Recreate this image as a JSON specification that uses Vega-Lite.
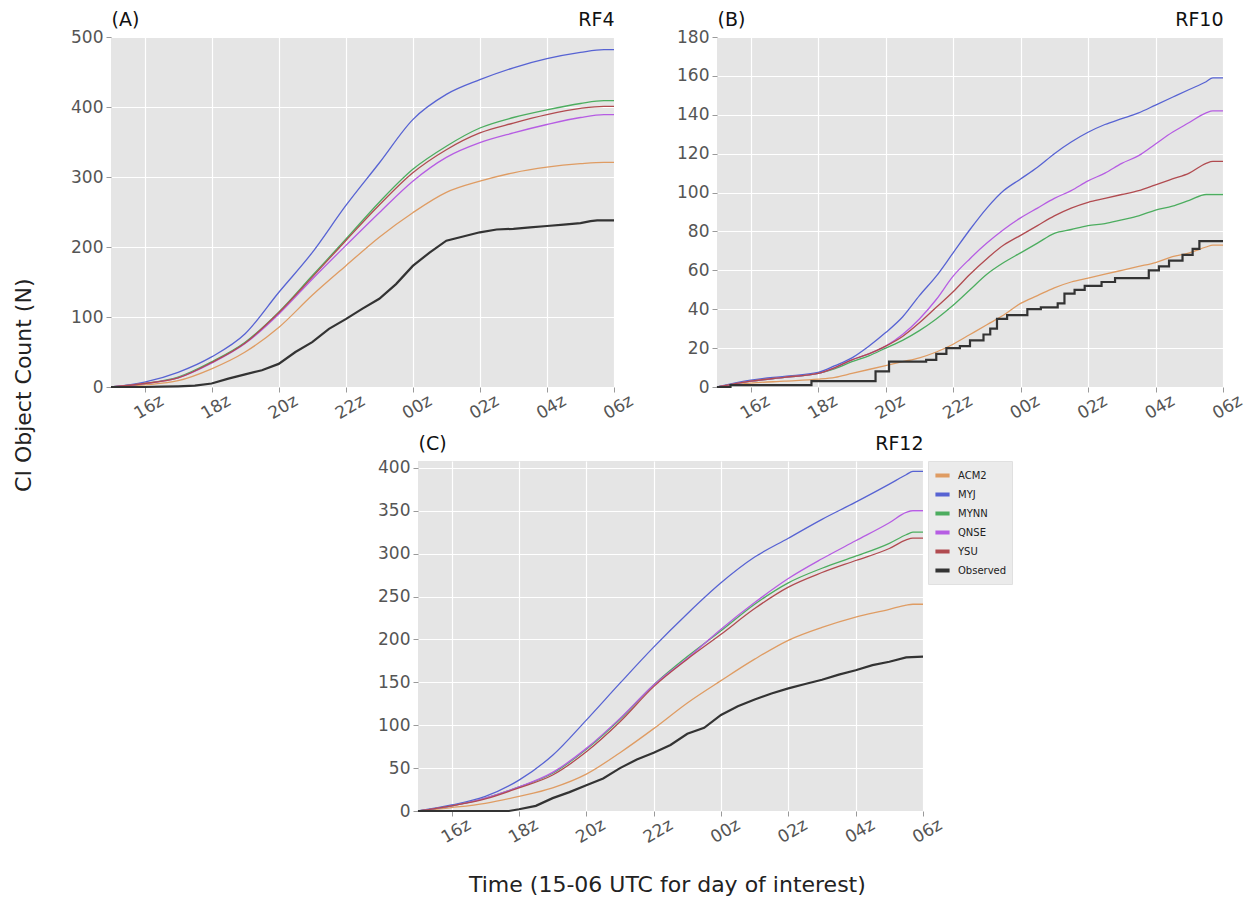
{
  "$schema": "https://vega.github.io/schema/vega-lite/v6.json",
  "background": "white",
  "padding": {"left": 12, "right": 5, "top": 10, "bottom": 5},
  "config": {
    "font": "DejaVu Sans",
    "view": {"stroke": null},
    "axis": {"labelFont": "DejaVu Sans", "labelFontSize": 17, "labelColor": "#555555", "tickColor": "#9a9a9a", "tickSize": 5, "domain": false, "gridColor": "#ffffff", "gridWidth": 1.2, "title": null, "labelOverlap": false},
    "title": {"font": "DejaVu Sans"}
  },
  "datasets": {
    "a_mod": [
      {"h": 15, "ACM2": 0, "MYJ": 0, "MYNN": 0, "QNSE": 0, "YSU": 0},
      {"h": 16, "ACM2": 3, "MYJ": 7, "MYNN": 5, "QNSE": 5, "YSU": 5},
      {"h": 17, "ACM2": 9, "MYJ": 21, "MYNN": 14, "QNSE": 13, "YSU": 13},
      {"h": 18, "ACM2": 26, "MYJ": 43, "MYNN": 36, "QNSE": 34, "YSU": 35},
      {"h": 19, "ACM2": 50, "MYJ": 76, "MYNN": 64, "QNSE": 62, "YSU": 63},
      {"h": 20, "ACM2": 85, "MYJ": 135, "MYNN": 107, "QNSE": 104, "YSU": 106},
      {"h": 21, "ACM2": 131, "MYJ": 192, "MYNN": 159, "QNSE": 154, "YSU": 157},
      {"h": 22, "ACM2": 173, "MYJ": 259, "MYNN": 211, "QNSE": 202, "YSU": 209},
      {"h": 23, "ACM2": 214, "MYJ": 320, "MYNN": 264, "QNSE": 249, "YSU": 260},
      {"h": 24, "ACM2": 249, "MYJ": 382, "MYNN": 311, "QNSE": 294, "YSU": 306},
      {"h": 25, "ACM2": 278, "MYJ": 418, "MYNN": 344, "QNSE": 328, "YSU": 339},
      {"h": 26, "ACM2": 294, "MYJ": 439, "MYNN": 370, "QNSE": 349, "YSU": 363},
      {"h": 27, "ACM2": 306, "MYJ": 456, "MYNN": 385, "QNSE": 363, "YSU": 377},
      {"h": 28, "ACM2": 314, "MYJ": 469, "MYNN": 396, "QNSE": 375, "YSU": 389},
      {"h": 29, "ACM2": 319, "MYJ": 478, "MYNN": 405, "QNSE": 385, "YSU": 398},
      {"h": 29.7, "ACM2": 321, "MYJ": 482, "MYNN": 409, "QNSE": 389, "YSU": 401},
      {"h": 30, "ACM2": 321, "MYJ": 482, "MYNN": 409, "QNSE": 389, "YSU": 401}
    ],
    "a_obs": [
      {"h": 15, "n": 0}, {"h": 16, "n": 0}, {"h": 16.5, "n": 0.5}, {"h": 17, "n": 1}, {"h": 17.5, "n": 2},
      {"h": 18, "n": 5}, {"h": 18.5, "n": 12}, {"h": 19, "n": 18}, {"h": 19.5, "n": 24}, {"h": 20, "n": 33},
      {"h": 20.5, "n": 50}, {"h": 21, "n": 64}, {"h": 21.5, "n": 83}, {"h": 22, "n": 97}, {"h": 22.5, "n": 112},
      {"h": 23, "n": 126}, {"h": 23.5, "n": 147}, {"h": 24, "n": 173}, {"h": 24.5, "n": 192}, {"h": 25, "n": 209},
      {"h": 25.5, "n": 215}, {"h": 26, "n": 221}, {"h": 26.5, "n": 225}, {"h": 27, "n": 226}, {"h": 27.5, "n": 228},
      {"h": 28, "n": 230}, {"h": 28.5, "n": 232}, {"h": 29, "n": 234}, {"h": 29.3, "n": 237}, {"h": 29.5, "n": 238},
      {"h": 30, "n": 238}
    ],
    "b_mod": [
      {"h": 15, "ACM2": 0, "MYJ": 0, "MYNN": 0, "QNSE": 0, "YSU": 0},
      {"h": 16, "ACM2": 2, "MYJ": 3.5, "MYNN": 3, "QNSE": 3, "YSU": 3},
      {"h": 17, "ACM2": 3, "MYJ": 5.5, "MYNN": 5, "QNSE": 5, "YSU": 5},
      {"h": 18, "ACM2": 4, "MYJ": 7.5, "MYNN": 7, "QNSE": 7, "YSU": 7},
      {"h": 18.5, "ACM2": 5, "MYJ": 11, "MYNN": 9.5, "QNSE": 10, "YSU": 10},
      {"h": 19, "ACM2": 7, "MYJ": 15, "MYNN": 13, "QNSE": 14, "YSU": 14},
      {"h": 19.5, "ACM2": 9, "MYJ": 21, "MYNN": 16, "QNSE": 17, "YSU": 17},
      {"h": 20, "ACM2": 11, "MYJ": 28, "MYNN": 20, "QNSE": 21, "YSU": 21},
      {"h": 20.5, "ACM2": 13, "MYJ": 36, "MYNN": 24, "QNSE": 27, "YSU": 26},
      {"h": 21, "ACM2": 15, "MYJ": 47, "MYNN": 29, "QNSE": 35, "YSU": 33},
      {"h": 21.5, "ACM2": 18, "MYJ": 57, "MYNN": 35, "QNSE": 45, "YSU": 41},
      {"h": 22, "ACM2": 22, "MYJ": 69, "MYNN": 42, "QNSE": 57, "YSU": 49},
      {"h": 22.5, "ACM2": 27, "MYJ": 81, "MYNN": 50, "QNSE": 66, "YSU": 58},
      {"h": 23, "ACM2": 32, "MYJ": 92, "MYNN": 58, "QNSE": 74, "YSU": 66},
      {"h": 23.5, "ACM2": 37, "MYJ": 101, "MYNN": 64, "QNSE": 81, "YSU": 73},
      {"h": 24, "ACM2": 43, "MYJ": 107, "MYNN": 69, "QNSE": 87, "YSU": 78},
      {"h": 24.5, "ACM2": 47, "MYJ": 113, "MYNN": 74, "QNSE": 92, "YSU": 83},
      {"h": 25, "ACM2": 51, "MYJ": 120, "MYNN": 79, "QNSE": 97, "YSU": 88},
      {"h": 25.5, "ACM2": 54, "MYJ": 126, "MYNN": 81, "QNSE": 101, "YSU": 92},
      {"h": 26, "ACM2": 56, "MYJ": 131, "MYNN": 83, "QNSE": 106, "YSU": 95},
      {"h": 26.5, "ACM2": 58, "MYJ": 135, "MYNN": 84, "QNSE": 110, "YSU": 97},
      {"h": 27, "ACM2": 60, "MYJ": 138, "MYNN": 86, "QNSE": 115, "YSU": 99},
      {"h": 27.5, "ACM2": 62, "MYJ": 141, "MYNN": 88, "QNSE": 119, "YSU": 101},
      {"h": 28, "ACM2": 64, "MYJ": 145, "MYNN": 91, "QNSE": 125, "YSU": 104},
      {"h": 28.5, "ACM2": 67, "MYJ": 149, "MYNN": 93, "QNSE": 131, "YSU": 107},
      {"h": 29, "ACM2": 69, "MYJ": 153, "MYNN": 96, "QNSE": 136, "YSU": 110},
      {"h": 29.5, "ACM2": 72, "MYJ": 157, "MYNN": 99, "QNSE": 141, "YSU": 115},
      {"h": 29.7, "ACM2": 73, "MYJ": 159, "MYNN": 99, "QNSE": 142, "YSU": 116},
      {"h": 30, "ACM2": 73, "MYJ": 159, "MYNN": 99, "QNSE": 142, "YSU": 116}
    ],
    "b_obs": [
      {"h": 15, "n": 0}, {"h": 15.4, "n": 1}, {"h": 17.8, "n": 3}, {"h": 19.7, "n": 8}, {"h": 20.1, "n": 13},
      {"h": 21.2, "n": 14}, {"h": 21.5, "n": 17}, {"h": 21.8, "n": 20}, {"h": 22.2, "n": 21}, {"h": 22.5, "n": 24},
      {"h": 22.9, "n": 27}, {"h": 23.1, "n": 30}, {"h": 23.3, "n": 35}, {"h": 23.6, "n": 37}, {"h": 24.2, "n": 40},
      {"h": 24.6, "n": 41}, {"h": 25.1, "n": 43}, {"h": 25.3, "n": 48}, {"h": 25.6, "n": 50}, {"h": 25.9, "n": 52},
      {"h": 26.4, "n": 54}, {"h": 26.8, "n": 56}, {"h": 27.8, "n": 60}, {"h": 28.1, "n": 62}, {"h": 28.4, "n": 65},
      {"h": 28.8, "n": 68}, {"h": 29.1, "n": 71}, {"h": 29.3, "n": 75}, {"h": 30, "n": 75}
    ],
    "c_mod": [
      {"h": 15, "ACM2": 0, "MYJ": 0, "MYNN": 0, "QNSE": 0, "YSU": 0},
      {"h": 16, "ACM2": 4, "MYJ": 7, "MYNN": 6, "QNSE": 6, "YSU": 6},
      {"h": 17, "ACM2": 9, "MYJ": 17, "MYNN": 15, "QNSE": 15, "YSU": 14},
      {"h": 18, "ACM2": 17, "MYJ": 36, "MYNN": 28, "QNSE": 28, "YSU": 27},
      {"h": 19, "ACM2": 27, "MYJ": 65, "MYNN": 44, "QNSE": 45, "YSU": 42},
      {"h": 20, "ACM2": 43, "MYJ": 106, "MYNN": 72, "QNSE": 73, "YSU": 69},
      {"h": 21, "ACM2": 68, "MYJ": 149, "MYNN": 107, "QNSE": 108, "YSU": 104},
      {"h": 22, "ACM2": 96, "MYJ": 191, "MYNN": 147, "QNSE": 147, "YSU": 145},
      {"h": 23, "ACM2": 126, "MYJ": 230, "MYNN": 180, "QNSE": 178, "YSU": 177},
      {"h": 24, "ACM2": 152, "MYJ": 266, "MYNN": 210, "QNSE": 212, "YSU": 206},
      {"h": 25, "ACM2": 177, "MYJ": 296, "MYNN": 241, "QNSE": 243, "YSU": 236},
      {"h": 26, "ACM2": 199, "MYJ": 318, "MYNN": 266, "QNSE": 271, "YSU": 261},
      {"h": 27, "ACM2": 214, "MYJ": 340, "MYNN": 283, "QNSE": 294, "YSU": 278},
      {"h": 28, "ACM2": 226, "MYJ": 360, "MYNN": 297, "QNSE": 315, "YSU": 292},
      {"h": 29, "ACM2": 235, "MYJ": 381, "MYNN": 312, "QNSE": 336, "YSU": 306},
      {"h": 29.5, "ACM2": 240, "MYJ": 392, "MYNN": 322, "QNSE": 348, "YSU": 316},
      {"h": 29.7, "ACM2": 241, "MYJ": 396, "MYNN": 325, "QNSE": 350, "YSU": 318},
      {"h": 30, "ACM2": 241, "MYJ": 396, "MYNN": 325, "QNSE": 350, "YSU": 318}
    ],
    "c_obs": [
      {"h": 15, "n": 0}, {"h": 17.7, "n": 0}, {"h": 18, "n": 2}, {"h": 18.5, "n": 6}, {"h": 19, "n": 15},
      {"h": 19.5, "n": 22}, {"h": 20, "n": 30}, {"h": 20.5, "n": 38}, {"h": 21, "n": 50}, {"h": 21.5, "n": 60},
      {"h": 22, "n": 68}, {"h": 22.5, "n": 77}, {"h": 23, "n": 90}, {"h": 23.5, "n": 97}, {"h": 24, "n": 112},
      {"h": 24.5, "n": 122}, {"h": 25, "n": 130}, {"h": 25.5, "n": 137}, {"h": 26, "n": 143}, {"h": 26.5, "n": 148},
      {"h": 27, "n": 153}, {"h": 27.5, "n": 159}, {"h": 28, "n": 164}, {"h": 28.5, "n": 170}, {"h": 29, "n": 174},
      {"h": 29.5, "n": 179}, {"h": 30, "n": 180}
    ]
  },
  "title": {"text": "CI Object Count (N)", "orient": "left", "anchor": "middle", "fontSize": 22, "fontWeight": "normal", "color": "#222222", "offset": 35, "dx": 68},
  "resolve": {"scale": {"color": "independent"}, "legend": {"color": "independent"}},
  "vconcat": [
    {
      "title": {"text": "Time (15-06 UTC for day of interest)", "orient": "bottom", "anchor": "middle", "fontSize": 22, "fontWeight": "normal", "color": "#222222", "offset": 30, "dx": 10},
      "spacing": 12,
      "resolve": {"scale": {"color": "independent"}, "legend": {"color": "independent"}},
      "vconcat": [
        {
          "spacing": 40,
          "resolve": {"scale": {"color": "independent"}, "legend": {"color": "independent"}},
          "hconcat": [
            {
              "width": 503, "height": 350,
              "view": {"fill": "#e5e5e5", "stroke": null},
              "resolve": {"axis": {"x": "independent"}},
              "layer": [
                {
                  "data": {"name": "a_mod"},
                  "transform": [{"fold": ["ACM2", "MYJ", "MYNN", "QNSE", "YSU"], "as": ["model", "n"]}],
                  "mark": {"type": "line", "strokeWidth": 1.3, "interpolate": "monotone"},
                  "encoding": {
                    "x": {"field": "h", "type": "quantitative", "scale": {"domain": [15, 30], "nice": false, "zero": false},
                          "axis": {"values": [16, 18, 20, 22, 24, 26, 28, 30], "labelExpr": "format(datum.value % 24, '02d') + 'z'", "labelAngle": -30, "labelAlign": "center", "labelBaseline": "top", "labelPadding": 8, "grid": true}},
                    "y": {"field": "n", "type": "quantitative", "scale": {"domain": [0, 500], "nice": false},
                          "axis": {"values": [0, 100, 200, 300, 400, 500], "grid": true, "labelPadding": 3}},
                    "color": {"field": "model", "type": "nominal",
                              "scale": {"domain": ["ACM2", "MYJ", "MYNN", "QNSE", "YSU", "Observed"], "range": ["#df9c63", "#5763d3", "#4cad5f", "#b65de3", "#b14b50", "#333333"]},
                              "legend": null}
                  }
                },
                {
                  "data": {"name": "a_obs"},
                  "mark": {"type": "line", "strokeWidth": 2.2},
                  "encoding": {
                    "x": {"field": "h", "type": "quantitative",
                          "axis": {"orient": "top", "values": [15, 30], "labelExpr": "datum.value == 15 ? '(A)' : 'RF4'", "labelFlush": true, "labelFontSize": 19, "labelColor": "#111111", "ticks": false, "grid": false, "labelPadding": 8, "labelAngle": 0}},
                    "y": {"field": "n", "type": "quantitative",
                          "axis": {"values": [0, 100, 200, 300, 400, 500], "grid": true, "labelPadding": 3}},
                    "color": {"datum": "Observed", "legend": null}
                  }
                }
              ]
            },
            {
              "width": 506, "height": 350,
              "view": {"fill": "#e5e5e5", "stroke": null},
              "resolve": {"axis": {"x": "independent"}},
              "layer": [
                {
                  "data": {"name": "b_mod"},
                  "transform": [{"fold": ["ACM2", "MYJ", "MYNN", "QNSE", "YSU"], "as": ["model", "n"]}],
                  "mark": {"type": "line", "strokeWidth": 1.3, "interpolate": "monotone"},
                  "encoding": {
                    "x": {"field": "h", "type": "quantitative", "scale": {"domain": [15, 30], "nice": false, "zero": false},
                          "axis": {"values": [16, 18, 20, 22, 24, 26, 28, 30], "labelExpr": "format(datum.value % 24, '02d') + 'z'", "labelAngle": -30, "labelAlign": "center", "labelBaseline": "top", "labelPadding": 8, "grid": true}},
                    "y": {"field": "n", "type": "quantitative", "scale": {"domain": [0, 180], "nice": false},
                          "axis": {"values": [0, 20, 40, 60, 80, 100, 120, 140, 160, 180], "grid": true, "labelPadding": 3}},
                    "color": {"field": "model", "type": "nominal",
                              "scale": {"domain": ["ACM2", "MYJ", "MYNN", "QNSE", "YSU", "Observed"], "range": ["#df9c63", "#5763d3", "#4cad5f", "#b65de3", "#b14b50", "#333333"]},
                              "legend": null}
                  }
                },
                {
                  "data": {"name": "b_obs"},
                  "mark": {"type": "line", "strokeWidth": 2.2, "interpolate": "step-after"},
                  "encoding": {
                    "x": {"field": "h", "type": "quantitative",
                          "axis": {"orient": "top", "values": [15, 30], "labelExpr": "datum.value == 15 ? '(B)' : 'RF10'", "labelFlush": true, "labelFontSize": 19, "labelColor": "#111111", "ticks": false, "grid": false, "labelPadding": 8, "labelAngle": 0}},
                    "y": {"field": "n", "type": "quantitative",
                          "axis": {"values": [0, 20, 40, 60, 80, 100, 120, 140, 160, 180], "grid": true, "labelPadding": 3}},
                    "color": {"datum": "Observed", "legend": null}
                  }
                }
              ]
            }
          ]
        },
        {
          "spacing": 0,
          "resolve": {"scale": {"color": "independent"}, "legend": {"color": "independent"}},
          "hconcat": [
            {
              "width": 266, "height": 350,
              "view": {"stroke": null},
              "data": {"values": [{"a": 1}]},
              "mark": {"type": "point", "opacity": 0}
            },
            {
              "width": 505, "height": 350,
              "view": {"fill": "#e5e5e5", "stroke": null},
              "resolve": {"axis": {"x": "independent"}},
              "layer": [
                {
                  "data": {"name": "c_mod"},
                  "transform": [{"fold": ["ACM2", "MYJ", "MYNN", "QNSE", "YSU"], "as": ["model", "n"]}],
                  "mark": {"type": "line", "strokeWidth": 1.3, "interpolate": "monotone"},
                  "encoding": {
                    "x": {"field": "h", "type": "quantitative", "scale": {"domain": [15, 30], "nice": false, "zero": false},
                          "axis": {"values": [16, 18, 20, 22, 24, 26, 28, 30], "labelExpr": "format(datum.value % 24, '02d') + 'z'", "labelAngle": -30, "labelAlign": "center", "labelBaseline": "top", "labelPadding": 8, "grid": true}},
                    "y": {"field": "n", "type": "quantitative", "scale": {"domain": [0, 408], "nice": false},
                          "axis": {"values": [0, 50, 100, 150, 200, 250, 300, 350, 400], "grid": true, "labelPadding": 3}},
                    "color": {"field": "model", "type": "nominal",
                              "scale": {"domain": ["ACM2", "MYJ", "MYNN", "QNSE", "YSU", "Observed"], "range": ["#df9c63", "#5763d3", "#4cad5f", "#b65de3", "#b14b50", "#333333"]},
                              "legend": {"orient": "right", "offset": 2, "title": null, "fillColor": "#ebebeb", "strokeColor": "#e0e0e0", "padding": 5, "labelFontSize": 10, "labelColor": "#222222", "labelFont": "DejaVu Sans", "symbolType": "stroke", "symbolStrokeWidth": 4, "symbolSize": 200, "rowPadding": 1, "labelOffset": 6}}
                  }
                },
                {
                  "data": {"name": "c_obs"},
                  "mark": {"type": "line", "strokeWidth": 2.2},
                  "encoding": {
                    "x": {"field": "h", "type": "quantitative",
                          "axis": {"orient": "top", "values": [15, 30], "labelExpr": "datum.value == 15 ? '(C)' : 'RF12'", "labelFlush": true, "labelFontSize": 19, "labelColor": "#111111", "ticks": false, "grid": false, "labelPadding": 8, "labelAngle": 0}},
                    "y": {"field": "n", "type": "quantitative",
                          "axis": {"values": [0, 50, 100, 150, 200, 250, 300, 350, 400], "grid": true, "labelPadding": 3}},
                    "color": {"datum": "Observed",
                              "legend": {"orient": "right", "offset": 2, "title": null, "fillColor": "#ebebeb", "strokeColor": "#e0e0e0", "padding": 5, "labelFontSize": 10, "labelColor": "#222222", "labelFont": "DejaVu Sans", "symbolType": "stroke", "symbolStrokeWidth": 4, "symbolSize": 200, "rowPadding": 1, "labelOffset": 6}}
                  }
                }
              ]
            }
          ]
        }
      ]
    }
  ]
}
